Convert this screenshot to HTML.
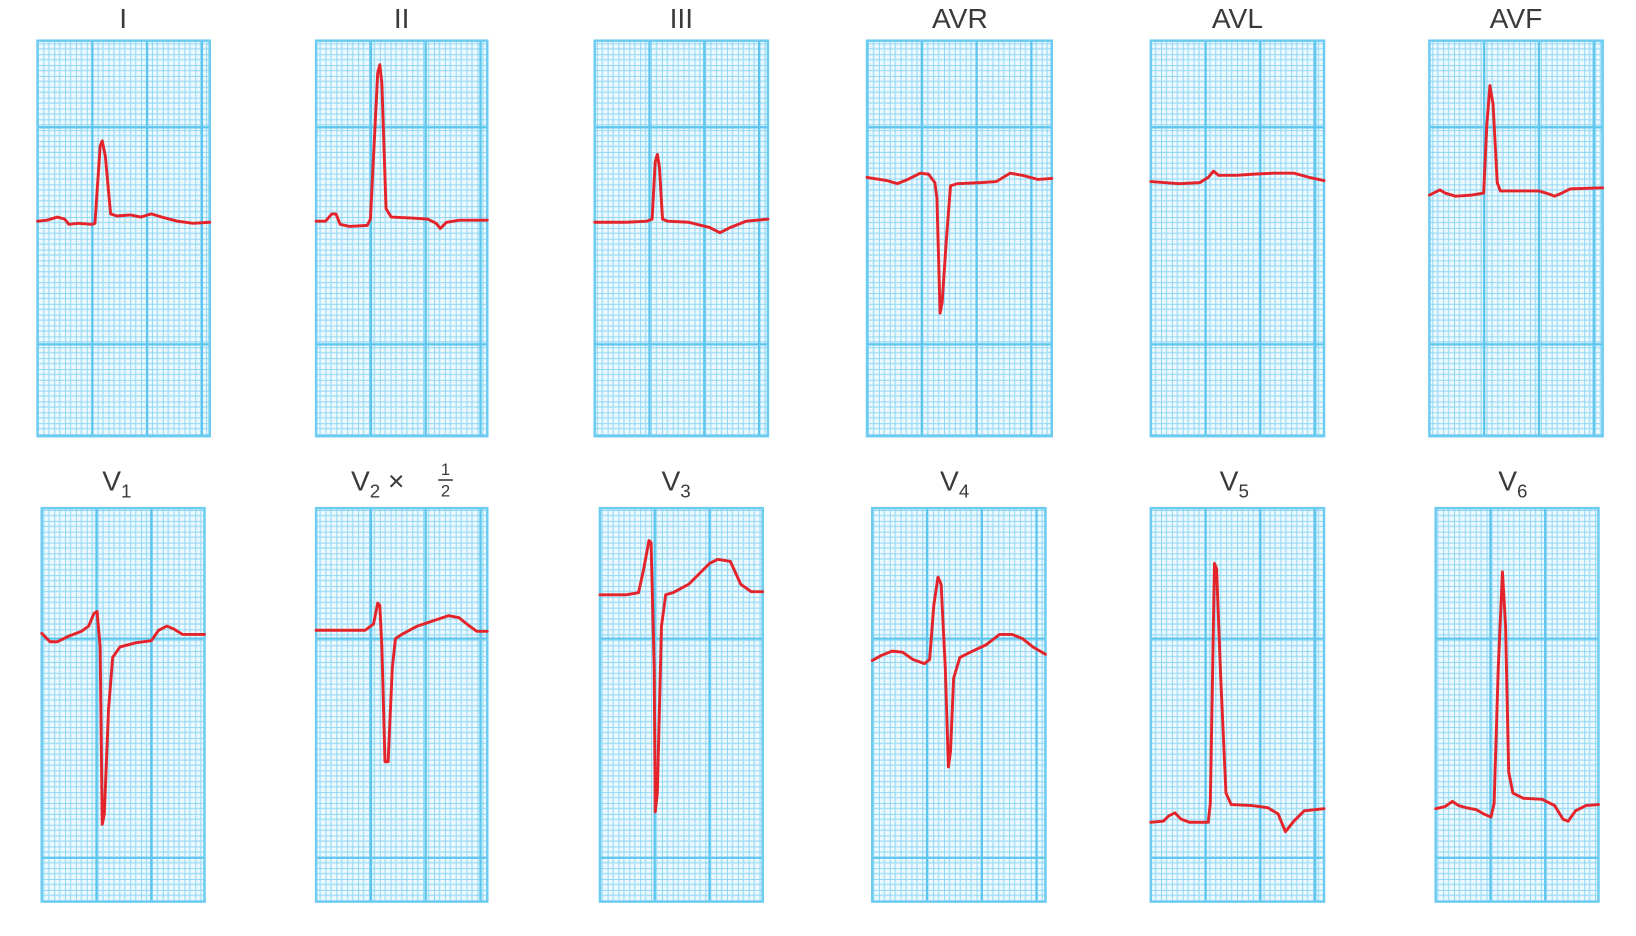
<!DOCTYPE html>
<html><head><meta charset="utf-8"><style>
html,body{margin:0;padding:0;background:#fff;width:1636px;height:936px;overflow:hidden}
svg{display:block}
text{font-family:"Liberation Sans",sans-serif;fill:#3a3a3a}
</style></head><body>
<svg width="1636" height="936" viewBox="0 0 1568 897" preserveAspectRatio="none" xmlns="http://www.w3.org/2000/svg">
<defs>
<pattern id="g" width="10.4" height="10.4" patternUnits="userSpaceOnUse">
<rect width="10.4" height="10.4" fill="#eef9fe"/>
<path d="M5.2 0V10.4M0 5.2H10.4" stroke="#a6e0f7" stroke-width="1.4"/>
<path d="M0 0V10.4M0 0H10.4" stroke="#86d3f3" stroke-width="1.7"/>
</pattern>
</defs>
<g id="panels"></g>
<g fill="none" stroke="#e3242b" stroke-width="2.8" stroke-linejoin="round" stroke-linecap="round" id="traces"></g>
<g font-size="27" text-anchor="middle">
<text x="118" y="27">I</text>
<text x="385" y="27">II</text>
<text x="653" y="27">III</text>
<text x="920" y="27">AVR</text>
<text x="1186" y="27">AVL</text>
<text x="1453" y="27">AVF</text>
<text x="112" y="470">V<tspan font-size="18" dy="7">1</tspan></text>
<text x="362" y="470">V<tspan font-size="18" dy="7">2</tspan><tspan dy="-7"> × </tspan></text>
<text x="427" y="455" font-size="16">1</text>
<line x1="420" y1="460" x2="434" y2="460" stroke="#3a3a3a" stroke-width="1.5"/>
<text x="427" y="476" font-size="16">2</text>
<text x="648" y="470">V<tspan font-size="18" dy="7">3</tspan></text>
<text x="915" y="470">V<tspan font-size="18" dy="7">4</tspan></text>
<text x="1183" y="470">V<tspan font-size="18" dy="7">5</tspan></text>
<text x="1450" y="470">V<tspan font-size="18" dy="7">6</tspan></text>
</g>
</svg>
<script>
const P=[[36,201,39,418,[122,330]],[303,467,39,418,[122,330]],[570,736,39,418,[122,330]],[831,1008,39,418,[122,330]],[1103,1269,39,418,[122,330]],[1370,1536,39,418,[122,330]],
[40,196,487,864,[612,822]],[303,467,487,864,[612,822]],[575,731,487,864,[612,822]],[836,1002,487,864,[612,822]],[1103,1269,487,864,[612,822]],[1376,1532,487,864,[612,822]]];
const T=[
"36,212 45,211 55,208 62,210 66,215 75,214 88,215 91,214 96,140 98,135 101,150 106,205 112,207 125,206 135,208 145,205 155,208 170,212 185,214 201,213",
"303,212 312,212 318,205 322,205 326,215 335,217 352,216 355,210 362,70 364,62 366,80 370,200 375,208 395,209 410,210 418,214 422,219 428,213 440,211 467,211",
"570,213 600,213 620,212 625,210 628,155 630,148 632,160 635,210 640,212 660,213 680,218 690,223 700,218 715,212 736,210",
"831,170 850,173 860,176 870,172 882,166 890,167 896,175 898,190 901,300 903,290 907,230 911,178 918,176 940,175 955,174 968,166 980,168 995,172 1008,171",
"1103,174 1130,176 1150,175 1158,170 1163,164 1168,168 1185,168 1200,167 1220,166 1240,166 1255,170 1269,173",
"1370,187 1380,182 1385,185 1395,188 1410,187 1422,185 1425,120 1428,82 1431,100 1435,175 1438,183 1455,183 1475,183 1485,186 1490,188 1497,185 1505,181 1536,180",
"40,607 48,615 55,615 65,610 78,605 85,600 90,588 93,586 96,620 98,790 100,780 104,680 108,630 115,620 130,616 145,614 152,604 160,600 167,603 175,608 196,608",
"303,604 350,604 358,598 362,578 364,580 366,620 369,730 372,730 376,640 379,612 385,608 400,600 415,595 430,590 440,592 450,600 457,605 467,605",
"575,570 600,570 612,568 617,545 622,518 624,520 627,640 628,778 630,760 634,600 638,570 645,568 660,560 680,540 688,536 700,538 710,560 720,567 731,567",
"836,633 845,628 855,624 865,625 875,632 886,636 891,632 895,580 899,553 902,560 906,640 909,735 911,720 914,650 920,630 930,625 945,618 958,608 970,608 980,612 990,620 1002,627",
"1103,788 1115,787 1120,782 1126,779 1132,785 1140,788 1158,788 1160,770 1164,540 1166,545 1170,650 1175,760 1180,771 1200,772 1215,774 1225,780 1232,797 1240,787 1250,777 1269,775",
"1376,775 1385,773 1392,768 1398,772 1405,774 1415,776 1422,780 1429,783 1432,770 1436,640 1440,548 1443,600 1446,740 1450,760 1460,765 1478,766 1490,772 1498,785 1503,787 1510,777 1520,772 1532,771"];
const NS="http://www.w3.org/2000/svg";
const pg=document.getElementById('panels'),tg=document.getElementById('traces');
P.forEach(([x1,x2,y1,y2,hy])=>{
 const g=document.createElementNS(NS,'g');
 let s=`<rect x="${x1}" y="${y1}" width="${x2-x1}" height="${y2-y1}" fill="url(#g)"/>`;
 for(let x=x1+52.5;x<x2-5;x+=52.5)s+=`<line x1="${x}" y1="${y1}" x2="${x}" y2="${y2}" stroke="#5cc6ef" stroke-width="2.2"/>`;
 hy.forEach(y=>s+=`<line x1="${x1}" y1="${y}" x2="${x2}" y2="${y}" stroke="#5cc6ef" stroke-width="2.2"/>`);
 s+=`<rect x="${x1}" y="${y1}" width="${x2-x1}" height="${y2-y1}" fill="none" stroke="#6ccbf1" stroke-width="2.4"/>`;
 g.innerHTML=s;pg.appendChild(g);
});
T.forEach(t=>{const p=document.createElementNS(NS,'polyline');p.setAttribute('points',t);tg.appendChild(p);});
</script>
</body></html>
